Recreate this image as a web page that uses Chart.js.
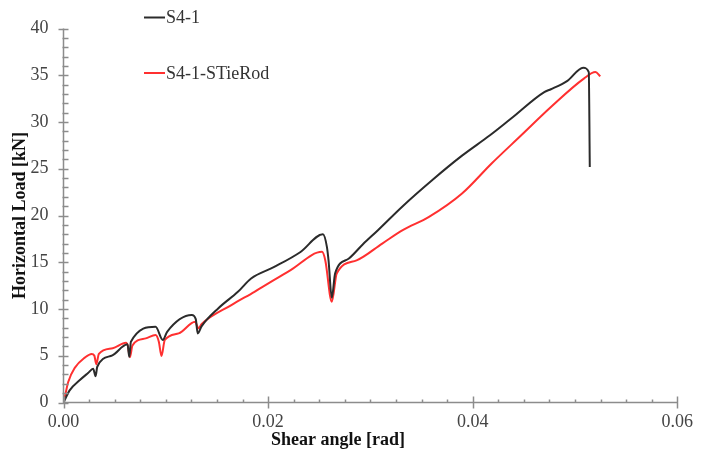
<!DOCTYPE html>
<html>
<head>
<meta charset="utf-8">
<script src="https://cdn.jsdelivr.net/npm/chart.js@4.4.1/dist/chart.umd.min.js"></script>
<style>
  html, body { margin: 0; padding: 0; background: #fff; }
  #wrap { width: 702px; height: 452px; }
</style>
</head>
<body>
<div id="wrap"><canvas id="loadChart" width="702" height="452"></canvas></div>
<script>
// S4-1 test curve: shear angle [rad] vs horizontal load [kN]
const shearS41 = [0, 0.0006, 0.0016, 0.0024, 0.0029, 0.00314, 0.0033, 0.00478, 0.00626, 0.00643, 0.00659,
  0.009, 0.00971, 0.01013, 0.01254, 0.01293, 0.01312, 0.01351, 0.01512, 0.01705, 0.01834, 0.0206,
  0.02317, 0.02536, 0.02575, 0.02591, 0.02623, 0.02655, 0.0279, 0.02925, 0.03074, 0.03316, 0.03606,
  0.03896, 0.04169, 0.04379, 0.047, 0.04765, 0.04926, 0.0508, 0.05135, 0.05145];
const loadS41 = [0, 1.3, 2.4, 3.15, 3.6, 2.8, 3.82, 5.05, 6.22, 4.89, 6.5,
  8.1, 6.68, 7.56, 9.35, 8.92, 7.39, 8.17, 10.06, 11.84, 13.27, 14.5,
  16.1, 18.0, 16.65, 15.2, 11.2, 13.8, 15.4, 16.9, 18.43, 21.0, 23.8,
  26.4, 28.58, 30.4, 33.2, 33.5, 34.4, 35.81, 35.34, 25.19];

// S4-1-STieRod test curve
const shearTieRod = [0, 0.00015, 0.00046, 0.0011, 0.00208, 0.00275, 0.00302, 0.0032, 0.00346, 0.00481,
  0.00611, 0.00628, 0.00649, 0.00674, 0.00804, 0.009, 0.00932, 0.00958, 0.0099, 0.01126, 0.01287,
  0.01319, 0.01351, 0.01641, 0.01867, 0.0222, 0.02527, 0.02559, 0.02623, 0.02671, 0.02865, 0.03116,
  0.03316, 0.03573, 0.03896, 0.04185, 0.04475, 0.04765, 0.05087, 0.052, 0.05248];
const loadTieRod = [0, 0.7, 2.2, 3.7, 4.8, 5.2, 5.0, 4.1, 5.2, 5.8,
  6.4, 6.1, 4.85, 6.1, 6.86, 7.21, 6.5, 4.97, 6.68, 7.39, 8.63,
  7.93, 8.39, 10.42, 11.84, 14.16, 16.11, 15.22, 10.77, 13.8, 15.2, 17.0,
  18.43, 19.85, 22.35, 25.56, 28.58, 31.6, 34.64, 35.34, 34.88];

const seriesLabels = ['S4-1', 'S4-1-STieRod'];
const xTitle = 'Shear angle [rad]';
const yTitle = 'Horizontal Load [kN]';

const toPoints = (xs, ys) => xs.map((x, i) => ({ x: x, y: ys[i] }));

const serif = '"Liberation Serif", "Times New Roman", serif';
const axisColor = '#8c8c8c';

// Axis lines, tick marks, titles and legend drawn on top of the chart area
const frame = {
  id: 'frame',
  afterDraw(chart) {
    const { ctx, chartArea, scales } = chart;
    const xs = scales.x, ys = scales.y;
    const x0 = xs.getPixelForValue(0);
    const y0 = ys.getPixelForValue(0);
    ctx.save();
    ctx.strokeStyle = axisColor;
    ctx.lineWidth = 1.5;

    ctx.beginPath();
    ctx.moveTo(x0, ys.getPixelForValue(40));
    ctx.lineTo(x0, y0);
    ctx.lineTo(xs.getPixelForValue(0.06), y0);
    ctx.stroke();

    // y ticks: major every 5, minor every 1
    for (let v = 0; v <= 40; v++) {
      const py = Math.round(ys.getPixelForValue(v)) + 0.5;
      const major = v % 5 === 0;
      ctx.beginPath();
      ctx.moveTo(x0 - (major ? 5 : 1), py);
      ctx.lineTo(x0 + 5, py);
      ctx.stroke();
    }
    // x ticks: major every 0.02, minor every 0.0025
    for (let i = 0; i <= 24; i++) {
      const px = Math.round(xs.getPixelForValue(i * 0.0025)) + 0.5;
      const major = i % 8 === 0;
      ctx.beginPath();
      ctx.moveTo(px, y0 - (major ? 6 : 3));
      ctx.lineTo(px, y0 + (major ? 6 : 0));
      ctx.stroke();
    }

    // axis titles
    ctx.fillStyle = '#111';
    ctx.font = 'bold 18px ' + serif;
    ctx.textAlign = 'center';
    ctx.textBaseline = 'middle';
    ctx.fillText(xTitle, 338, 440);
    ctx.translate(20, (chartArea.top + chartArea.bottom) / 2);
    ctx.rotate(-Math.PI / 2);
    ctx.fillText(yTitle, 0, 0);
    ctx.setTransform(1, 0, 0, 1, 0, 0);

    // legend
    const rows = [17.5, 73];
    ctx.font = '18px ' + serif;
    ctx.textAlign = 'left';
    ctx.fillStyle = '#333';
    chart.data.datasets.forEach((ds, i) => {
      ctx.strokeStyle = ds.borderColor;
      ctx.lineWidth = 2;
      ctx.beginPath();
      ctx.moveTo(144, rows[i]);
      ctx.lineTo(165, rows[i]);
      ctx.stroke();
      ctx.fillText(ds.label, 166, rows[i] + 1);
    });
    ctx.restore();
  }
};

function drawChart() {
  new Chart(document.getElementById('loadChart'), {
    type: 'scatter',
    data: {
      datasets: [
        {
          label: seriesLabels[0],
          data: toPoints(shearS41, loadS41),
          borderColor: '#2b2b2b',
          borderWidth: 2,
          showLine: true,
          pointRadius: 0,
          cubicInterpolationMode: 'monotone'
        },
        {
          label: seriesLabels[1],
          data: toPoints(shearTieRod, loadTieRod),
          borderColor: '#ff3030',
          borderWidth: 2,
          showLine: true,
          pointRadius: 0,
          cubicInterpolationMode: 'monotone'
        }
      ]
    },
    options: {
      responsive: false,
      animation: false,
      layout: { padding: { top: 28.5, right: 17, left: 0, bottom: 0 } },
      plugins: { legend: { display: false }, tooltip: { enabled: false } },
      scales: {
        x: {
          type: 'linear',
          min: 0,
          max: 0.06,
          afterFit: (scale) => { scale.height = 49.5; },
          grid: { display: false, drawTicks: false },
          border: { display: false },
          ticks: {
            stepSize: 0.02,
            padding: 9,
            color: '#444',
            font: { family: serif, size: 18 },
            callback: (v) => v.toFixed(2),
            maxRotation: 0
          }
        },
        y: {
          min: 0,
          max: 40,
          afterFit: (scale) => { scale.width = 63.5; },
          grid: { display: false, drawTicks: false },
          border: { display: false },
          ticks: {
            stepSize: 5,
            padding: 15,
            color: '#444',
            font: { family: serif, size: 18 }
          }
        }
      }
    },
    plugins: [frame]
  });
}

// make sure the serif faces are ready before the canvas text is drawn
Promise.all([
  document.fonts.load('18px "Liberation Serif"'),
  document.fonts.load('bold 18px "Liberation Serif"')
]).then(drawChart, drawChart);
</script>
</body>
</html>
